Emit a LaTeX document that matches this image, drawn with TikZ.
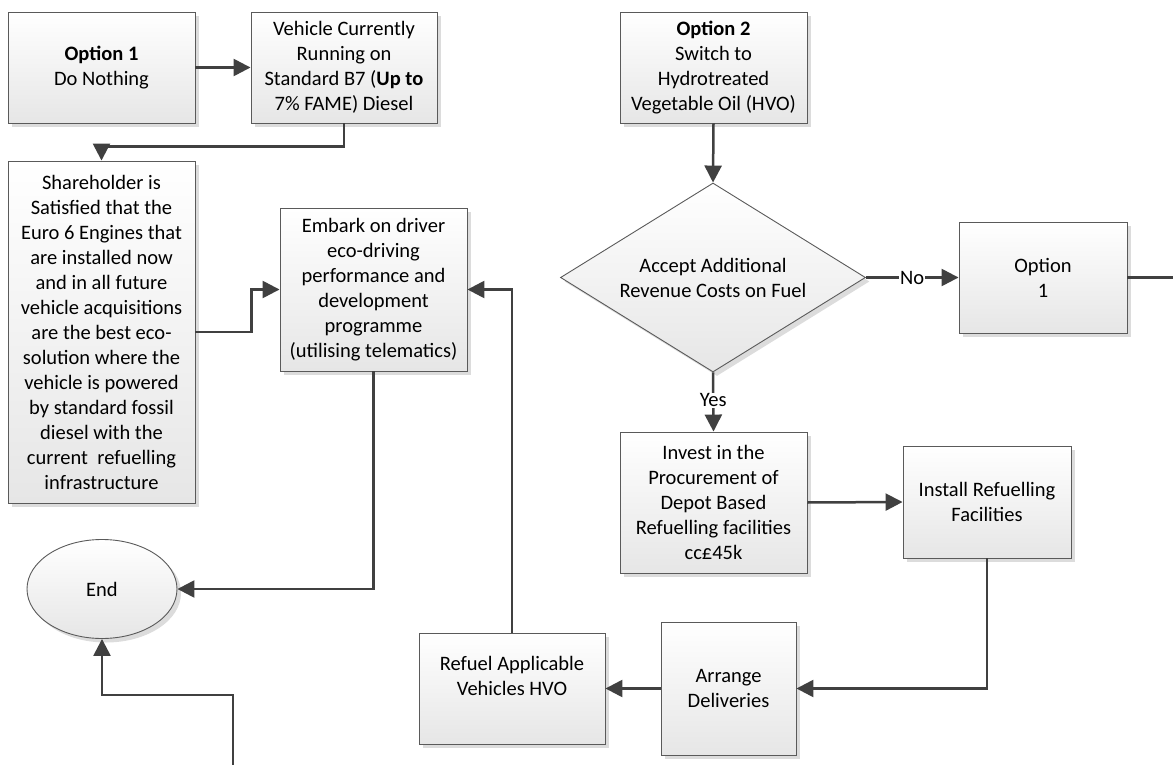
\documentclass[tikz,border=0pt]{standalone}
\usepackage{fontspec}
\setmainfont{Carlito}
\usetikzlibrary{arrows.meta,shapes.geometric,shadows}
\definecolor{linegrey}{HTML}{404040}
\definecolor{edgegrey}{HTML}{5A5A5A}
\definecolor{fillgrey}{HTML}{E6E6E6}
\definecolor{shadegrey}{HTML}{DCDCDC}
\begin{document}
\begin{tikzpicture}
	[x=1pt,y=-1pt,
	 every node/.style={font=\fontsize{20.5}{25}\selectfont,align=center,inner sep=0pt},
	 box/.style={rectangle,draw=edgegrey,line width=0.9pt,top color=white,bottom color=fillgrey,
	   drop shadow={shadow xshift=4pt,shadow yshift=-4pt,fill=shadegrey,opacity=1}},
	 decision/.style={box,diamond,aspect=1.6},
	 terminal/.style={box,ellipse},
	 conn/.style={draw=linegrey,line width=2.5pt,-{Triangle[length=17pt,width=17pt]}},
	 plain/.style={draw=linegrey,line width=2.5pt},
	 answer/.style={fill=white,inner sep=1pt}]
\useasboundingbox (0,0) rectangle (1173,765);
% left branch: option 1
\node[box,minimum width=187,minimum height=111] (opt1) at (101.5,67.5) {\textbf{Option 1}\\Do Nothing};
\node[box,minimum width=186,minimum height=111] (cur) at (344,67.5)
  {Vehicle Currently\\Running on\\Standard B7 (\textbf{Up to}\\7\% FAME) Diesel};
\node[box,minimum width=187,minimum height=342] (sat) at (101.5,332)
  {Shareholder is\\Satisfied that the\\Euro 6 Engines that\\are installed now\\and in all future\\vehicle acquisitions\\are the best eco-\\solution where the\\vehicle is powered\\by standard fossil\\diesel with the\\current~ refuelling\\infrastructure};
\node[box,minimum width=187,minimum height=163] (eco) at (373.5,289.5)
  {Embark on driver\\eco-driving\\performance and\\development\\programme\\(utilising telematics)};
\node[terminal,minimum width=150,minimum height=99] (end) at (102,589) {End};
% right branch: option 2
\node[box,minimum width=187,minimum height=111] (opt2) at (713.5,67.5)
  {\textbf{Option 2}\\Switch to\\Hydrotreated\\Vegetable Oil (HVO)};
\node[decision,minimum width=305,minimum height=189] (accept) at (713,277.5)
  {Accept Additional\\Revenue Costs on Fuel};
\node[box,minimum width=168,minimum height=111] (optA) at (1043,277.5) {Option\\1};
\node[box,minimum width=187,minimum height=141] (invest) at (713.5,502.5)
  {Invest in the\\Procurement of\\Depot Based\\Refuelling facilities\\cc£45k};
\node[box,minimum width=168,minimum height=112] (install) at (987,502) {Install Refuelling\\Facilities};
\node[box,minimum width=135,minimum height=133] (arrange) at (728.5,688.5) {Arrange\\Deliveries};
\node[box,minimum width=186,minimum height=111] (refuel) at (512,688.5)
  {Refuel Applicable\\Vehicles HVO\\\mbox{}};
% off-page ends
\coordinate (offright) at (1173,277.5);
\coordinate (offbottom) at (233,765);
% connectors
\draw[conn] (opt1.east) -- (cur.west);
\draw[conn] (cur.south) -- ++(0,23) -| (sat.north);
\draw[conn] (sat.east) -- ++(56,0) |- (eco.west);
\draw[conn] (eco.south) |- (end.east);
\draw[conn] (offbottom) -- ++(0,-70) -| (end.south);
\draw[conn] (opt2.south) -- (accept.north);
\draw[conn] (accept.east) -- node[answer] {No} (optA.west);
\draw[plain] (optA.east) -- (offright);
\draw[conn] (accept.south) -- node[answer,pos=0.47] {Yes} (invest.north);
\draw[conn] (invest.east) -- (install.west);
\draw[conn] (install.south) |- (arrange.east);
\draw[conn] (arrange.west) -- (refuel.east);
\draw[conn] (refuel.north) |- (eco.east);
\end{tikzpicture}
\end{document}
